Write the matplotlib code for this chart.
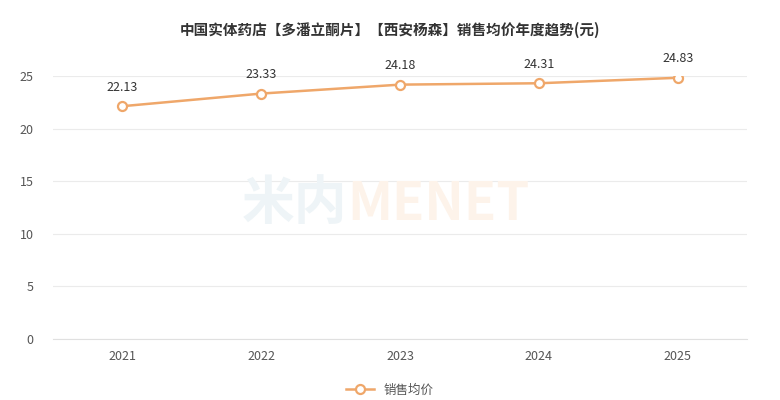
import matplotlib
matplotlib.use("Agg")
import matplotlib.pyplot as plt

plt.rcParams['font.family'] = ['Noto Sans CJK SC', 'DejaVu Sans']

years = ['2021', '2022', '2023', '2024', '2025']
prices = [22.13, 23.33, 24.18, 24.31, 24.83]
series_name = '销售均价'
title = '中国实体药店【多潘立酮片】【西安杨森】销售均价年度趋势(元)'

color = '#EFA76A'

fig = plt.figure(figsize=(7.8, 4), dpi=100)
ax = fig.add_axes([0.068, 0.1525, 0.89, 0.6575])

x = range(len(years))
ax.plot(x, prices, color=color, lw=1.8, marker='o', markersize=6.5,
        markerfacecolor='white', markeredgecolor=color, markeredgewidth=1.6,
        label=series_name, zorder=3)
for xi, v in zip(x, prices):
    ax.annotate(f'{v:.2f}', (xi, v), xytext=(0, 9), textcoords='offset points',
                ha='center', va='bottom', fontsize=9, color='#333333')

ax.set_xlim(-0.5, len(years) - 0.5)
ax.set_ylim(0, 25)
ax.set_yticks([0, 5, 10, 15, 20, 25])
ax.set_xticks(list(x))
ax.set_xticklabels(years)
ax.tick_params(axis='both', length=0, labelsize=9, colors='#555555')
ax.tick_params(axis='x', pad=8)
ax.tick_params(axis='y', pad=14)
ax.grid(axis='y', color='#EBEBEB', lw=0.8)
ax.set_axisbelow(True)
for s in ['top', 'right', 'left']:
    ax.spines[s].set_visible(False)
ax.spines['bottom'].set_color('#E0E0E0')

# faint watermark
fig.text(0.445, 0.49, '米内', ha='right', va='center', fontsize=38,
         fontweight='bold', color='#EEF4F7', zorder=0)
fig.text(0.445, 0.49, 'MENET', ha='left', va='center', fontsize=38,
         fontweight='bold', color='#FDF3EA', zorder=0)

fig.text(0.5, 0.925, title, ha='center', va='center', fontsize=10.5,
         fontweight='bold', color='#333333')

fig.legend(loc='center', bbox_to_anchor=(0.5, 0.025), frameon=False,
           fontsize=9, labelcolor='#555555', handlelength=2.2)

fig.savefig('out.png', dpi=100)
